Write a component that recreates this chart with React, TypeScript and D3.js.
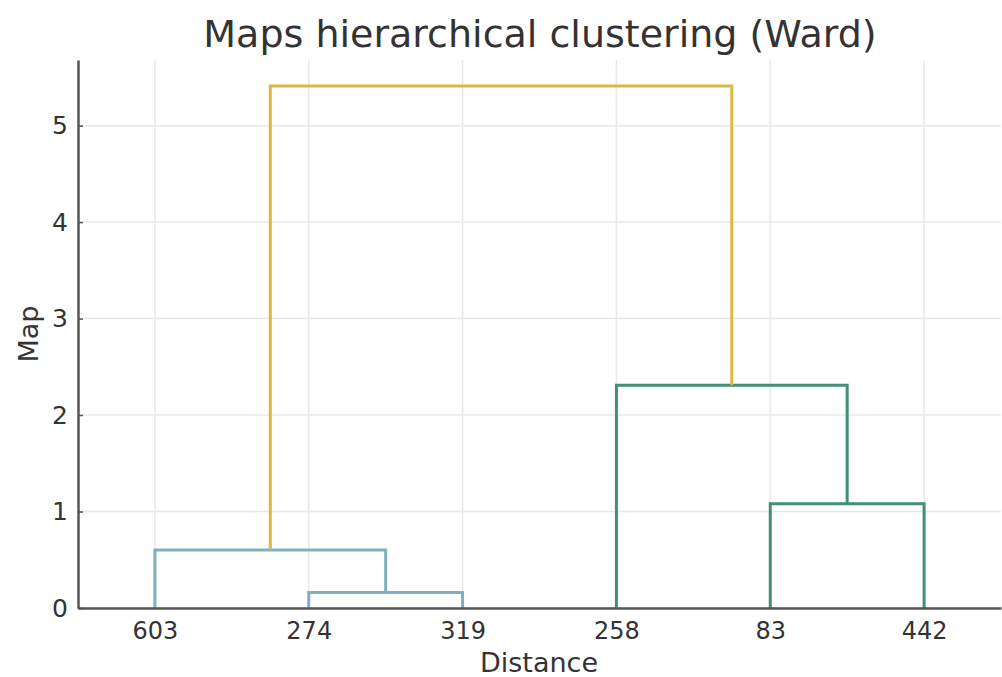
import React, { useEffect, useRef } from 'react';
import * as d3 from 'd3';

// leaves in dendrogram order
const leafLabels = ['603', '274', '319', '258', '83', '442'];
// linkage rows: [left id, right id, height]; ids >= leaves.length are earlier merges
const mergeLeft = [1, 0, 4, 3, 7];
const mergeRight = [2, 6, 5, 8, 9];
const mergeHeight = [0.16, 0.6, 1.08, 2.31, 5.41];
const mergeColor = ['#7fb0bf', '#7fb0bf', '#3f9079', '#3f9079', '#dbb842'];
const yTicks = [0, 1, 2, 3, 4, 5];

const W = 1002;
const H = 677;
const margin = { top: 60, right: 1, bottom: 69, left: 78 };

export default function App() {
  const svgRef = useRef<SVGSVGElement | null>(null);

  useEffect(() => {
    const svg = d3.select(svgRef.current);
    svg.selectAll('*').remove();

    const n = leafLabels.length;
    const x = d3.scaleLinear().domain([0, n * 10]).range([margin.left, W - margin.right]);
    const yMax = d3.max(mergeHeight)! * 1.05;
    const y = d3.scaleLinear().domain([0, yMax]).range([H - margin.bottom, margin.top]);

    const font = 'DejaVu Sans, sans-serif';

    // grid
    const grid = svg.append('g');
    leafLabels.forEach((_, i) => {
      grid.append('line')
        .attr('x1', x(5 + i * 10)).attr('x2', x(5 + i * 10))
        .attr('y1', y(0)).attr('y2', y(yMax))
        .attr('stroke', '#e8e8e8').attr('stroke-width', 1.5);
    });
    yTicks.forEach(t => {
      grid.append('line')
        .attr('x1', x(0)).attr('x2', x(n * 10))
        .attr('y1', y(t)).attr('y2', y(t))
        .attr('stroke', '#e8e8e8').attr('stroke-width', 1.5);
    });

    // node positions: leaves then merges
    const pos: { x: number; h: number }[] = leafLabels.map((_, i) => ({ x: 5 + i * 10, h: 0 }));
    const links = svg.append('g').attr('fill', 'none').attr('stroke-width', 3);
    mergeHeight.forEach((h, k) => {
      const a = pos[mergeLeft[k]];
      const b = pos[mergeRight[k]];
      const path = d3.path();
      path.moveTo(x(a.x), y(a.h));
      path.lineTo(x(a.x), y(h));
      path.lineTo(x(b.x), y(h));
      path.lineTo(x(b.x), y(b.h));
      links.append('path').attr('d', path.toString()).attr('stroke', mergeColor[k]);
      pos.push({ x: (a.x + b.x) / 2, h });
    });

    // axes
    const xAxis = svg.append('g')
      .attr('transform', `translate(0,${y(0)})`)
      .call(d3.axisBottom(x).tickValues(leafLabels.map((_, i) => 5 + i * 10))
        .tickFormat((_, i) => leafLabels[i]).tickSize(0).tickPadding(14).tickSizeOuter(0));
    xAxis.select('.domain').attr('stroke', '#555').attr('stroke-width', 2.5);
    xAxis.selectAll('.tick text').attr('font-size', '24px').attr('font-family', font).attr('fill', '#333');

    const yAxis = svg.append('g')
      .attr('transform', `translate(${x(0)},0)`)
      .call(d3.axisLeft(y).tickValues(yTicks).tickFormat(d3.format('d')).tickSize(-5).tickPadding(10).tickSizeOuter(0));
    yAxis.select('.domain').attr('stroke', '#555').attr('stroke-width', 2.5);
    yAxis.selectAll('.tick line').attr('stroke', '#555').attr('stroke-width', 1.5);
    yAxis.selectAll('.tick text').attr('font-size', '25px').attr('font-family', font).attr('fill', '#333');

    // labels
    svg.append('text')
      .attr('x', 540).attr('y', 47)
      .attr('text-anchor', 'middle')
      .attr('font-family', font).attr('font-size', '38px').attr('fill', '#333')
      .text('Maps hierarchical clustering (Ward)');
    svg.append('text')
      .attr('x', 539).attr('y', 672)
      .attr('text-anchor', 'middle')
      .attr('font-family', font).attr('font-size', '27px').attr('fill', '#333')
      .text('Distance');
    svg.append('text')
      .attr('transform', `translate(38,${(y(0) + y(yMax)) / 2}) rotate(-90)`)
      .attr('text-anchor', 'middle')
      .attr('font-family', font).attr('font-size', '27px').attr('fill', '#333')
      .text('Map');
  }, []);

  return (
    <svg ref={svgRef} width={W} height={H}
      style={{ position: 'absolute', top: 0, left: 0, background: '#fff' }} />
  );
}
